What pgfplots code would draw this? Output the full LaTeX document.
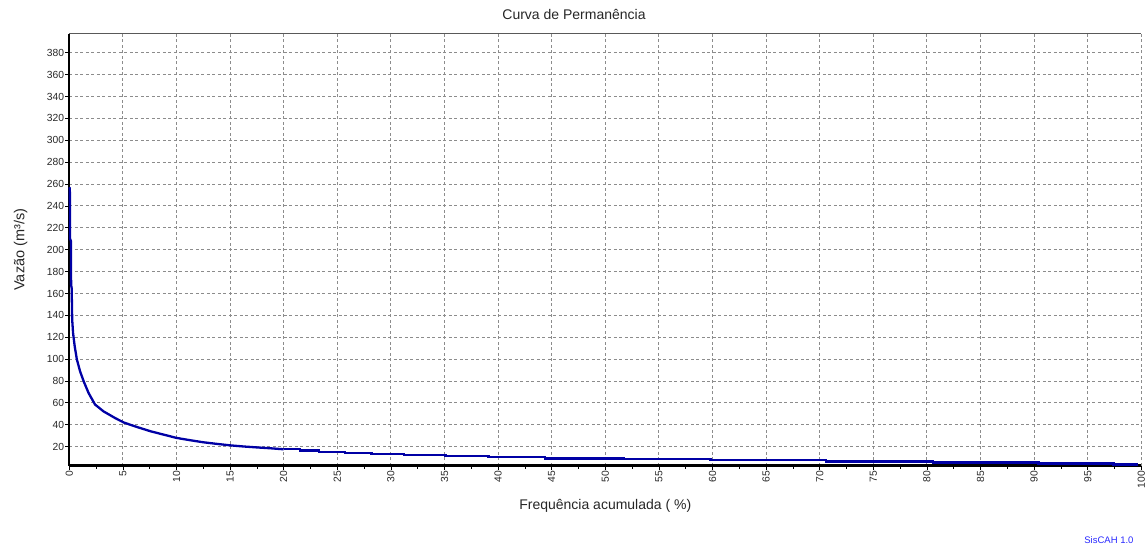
\documentclass[border=0pt]{standalone}
\usepackage{fontspec}
\setmainfont{Liberation Sans}
\usepackage{pgfplots}
\pgfplotsset{compat=1.18}

\definecolor{curve}{RGB}{0,0,165}
\definecolor{gridc}{RGB}{140,140,140}
\definecolor{tickc}{RGB}{40,40,40}
\definecolor{brand}{RGB}{40,40,255}

\begin{document}
\begin{tikzpicture}[x=1pt,y=1pt]
\path[use as bounding box] (0,0) rectangle (1148,548);
\begin{axis}[
  at={(69.3pt,82.3pt)}, anchor=south west,
  scale only axis, width=1072pt, height=432pt,
  xmin=0, xmax=100, ymin=2.6, ymax=397.4,
  axis x line*=bottom, axis y line*=left,
  axis line style={line width=2.4pt, black},
  xtick={0,5,...,100}, ytick={20,40,...,380},
  minor xtick={2.5,7.5,...,97.5},
  tick align=outside,
  major tick length=4pt, minor tick length=3pt,
  tick style={black, line width=0.8pt},
  grid=major,
  major grid style={gridc, line width=0.9pt, dash pattern=on 3pt off 2.5pt},
  /pgf/number format/assume math mode=true,
  ticklabel style={font=\fontsize{10.3}{12}\selectfont, text=tickc},
  xticklabel style={rotate=90, anchor=east, inner sep=1pt},
  yticklabel style={anchor=east, inner sep=1pt},
  title={Curva de Permanência},
  title style={at={(axis description cs:0.4708,1.0178)}, anchor=base,
               font=\fontsize{14}{16}\selectfont, text=black!85},
  xlabel={Frequência acumulada ( \%)},
  xlabel style={at={(axis description cs:0.5,-0.1025)}, anchor=base,
                font=\fontsize{14}{16}\selectfont, text=black!85},
  ylabel={Vazão (m³/s)},
  ylabel style={at={(axis description cs:-0.0420,0.5)}, anchor=base, rotate=0,
                font=\fontsize{14.5}{16}\selectfont, text=black!85},
  clip=false,
]
% upper frame edge
\draw[black!65, line width=1.3pt] (axis description cs:0,1) -- (axis description cs:1,1);

% head of the duration curve
\addplot[curve, line width=2.3pt, line join=round] coordinates {
  (0,257) (0.05,256) (0.07,210) (0.15,208) (0.17,168) (0.22,165)
  (0.27,136) (0.35,124) (0.5,112) (0.7,100) (1.0,89) (1.35,79.5)
  (1.8,69) (2.4,58.5) (3.2,52.2) (4.3,46) (5.1,42) (6.3,38)
  (7.6,34) (8.8,31) (10,28) (11.2,26) (12.5,24) (13.8,22.5)
  (15,21.2) (16.2,20.2) (17.5,19.3) (18.8,18.5) (20,17.6)
};
% tail, stepped flow values
\addplot[curve, line width=2.3pt, const plot mark left] coordinates {
  (20,17.6) (21.5,16.4) (23.3,15.4) (25.7,14.5) (28.2,13.5)
  (31.2,12.5) (35.1,11.4) (39.1,10.4) (44.4,9.3) (51.7,8.5)
  (59.8,7.6) (70.6,6.5) (80.6,5.5) (90.4,4.6) (97.4,3.7) (99.7,3.7)
};

\node[anchor=east, text=brand, font=\fontsize{9.5}{11}\selectfont]
  at (axis description cs:0.996,-0.172) {SisCAH 1.0};
\end{axis}
\end{tikzpicture}
\end{document}
